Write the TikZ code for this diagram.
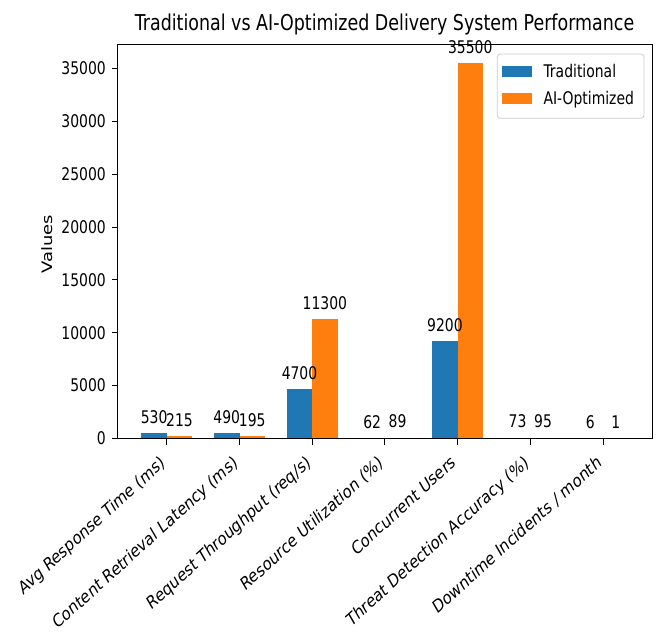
\documentclass[tikz,border=0pt]{standalone}
\usepackage{fontspec}
\setmainfont{DejaVu Sans}[FakeStretch=0.8]
\newfontfamily\plainfont{DejaVu Sans}
\definecolor{tradblue}{HTML}{1F77B4}
\definecolor{aiorange}{HTML}{FF7F0E}
\definecolor{legendedge}{HTML}{CCCCCC}
\tikzset{
  axisline/.style={line width=1bp, black},
  ticklabel/.style={inner sep=0pt, anchor=base east, font=\fontsize{17.5}{20}\selectfont},
  vallabel/.style={inner sep=0pt, anchor=base, font=\fontsize{17.5}{20}\selectfont},
  catlabel/.style={inner sep=0pt, anchor=north east, rotate=36, transform shape,
                   font=\plainfont\fontsize{18}{20}\selectfont},
  legendtext/.style={inner sep=0pt, anchor=base west, font=\fontsize{17.5}{20}\selectfont},
}
\begin{document}
\begin{tikzpicture}[x=1bp, y=-1bp]
  \useasboundingbox (0,0) rectangle (657,635);
  \fill[white] (0,0) rectangle (657,635);

  % baseline of the value axis and its scale in px per unit
  \def\ybase{438.5}
  \def\ypx{0.01057}

  % bars, category ticks and labels
  \foreach \k/\lab/\va/\vb in {
      0/{Avg Response Time (ms)}/530/215,
      1/{Content Retrieval Latency (ms)}/490/195,
      2/{Request Throughput (req/s)}/4700/11300,
      3/{Resource Utilization (\%)}/62/89,
      4/{Concurrent Users}/9200/35500,
      5/{Threat Detection Accuracy (\%)}/73/95,
      6/{Downtime Incidents / month}/6/1} {
    \edef\cx{\fpeval{166.8+72.7*\k}}
    \edef\ha{\fpeval{\ybase-\ypx*\va}}
    \edef\hb{\fpeval{\ybase-\ypx*\vb}}
    \fill[tradblue] (\cx-25.4,\ha) rectangle (\cx,\ybase);
    \fill[aiorange] (\cx,\hb) rectangle (\cx+25.4,\ybase);
    \draw[axisline] (\cx,\ybase) -- (\cx,\ybase+6);
    \begin{scope}[shift={(\cx-7,454)}, xscale=0.8]
      \node[catlabel] (cat\k) at (0,0) {\lab};
    \end{scope}
  }

  % axes frame
  \draw[axisline] (117,44.5) rectangle (652.8,\ybase);

  % value axis ticks and labels
  \foreach \t in {0,5000,10000,15000,20000,25000,30000,35000} {
    \edef\yy{\fpeval{\ybase-\ypx*\t}}
    \draw[axisline] (112,\yy) -- (117,\yy);
    \node[ticklabel] (tick\t) at (106,\yy+6.3) {\t};
  }

  % value labels above the bars
  \foreach \k/\va/\vb in {0/530/215, 1/490/195, 2/4700/11300, 3/62/89,
                          4/9200/35500, 5/73/95, 6/6/1} {
    \edef\cx{\fpeval{166.8+72.7*\k}}
    \edef\ha{\fpeval{\ybase-\ypx*\va}}
    \edef\hb{\fpeval{\ybase-\ypx*\vb}}
    \node[vallabel] (vala\k) at (\cx-12.7,\ha-9.8) {\va};
    \node[vallabel] (valb\k) at (\cx+12.7,\hb-9.8) {\vb};
  }

  % axis title
  \node[inner sep=0pt, anchor=base, rotate=90] (ytitle) at (52,244)
    {\plainfont\fontsize{18}{20}\selectfont\scalebox{1}[0.8]{Values}};

  % chart title
  \node[inner sep=0pt, anchor=base, font=\fontsize{21.9}{24}\selectfont] (title)
    at (384.5,30.7) {Traditional vs AI-Optimized Delivery System Performance};

  % legend
  \draw[legendedge, fill=white, fill opacity=0.8, rounded corners=3bp, line width=0.8bp]
    (497.3,54) rectangle (644,118.3);
  \fill[tradblue] (502.3,66.5) rectangle (531.7,77.5);
  \fill[aiorange] (502.3,93.5) rectangle (531.7,104.5);
  \node[legendtext] (legtrad) at (543.3,77.3) {Traditional};
  \node[legendtext] (legai) at (543.3,105) {AI-Optimized};
\end{tikzpicture}
\end{document}
